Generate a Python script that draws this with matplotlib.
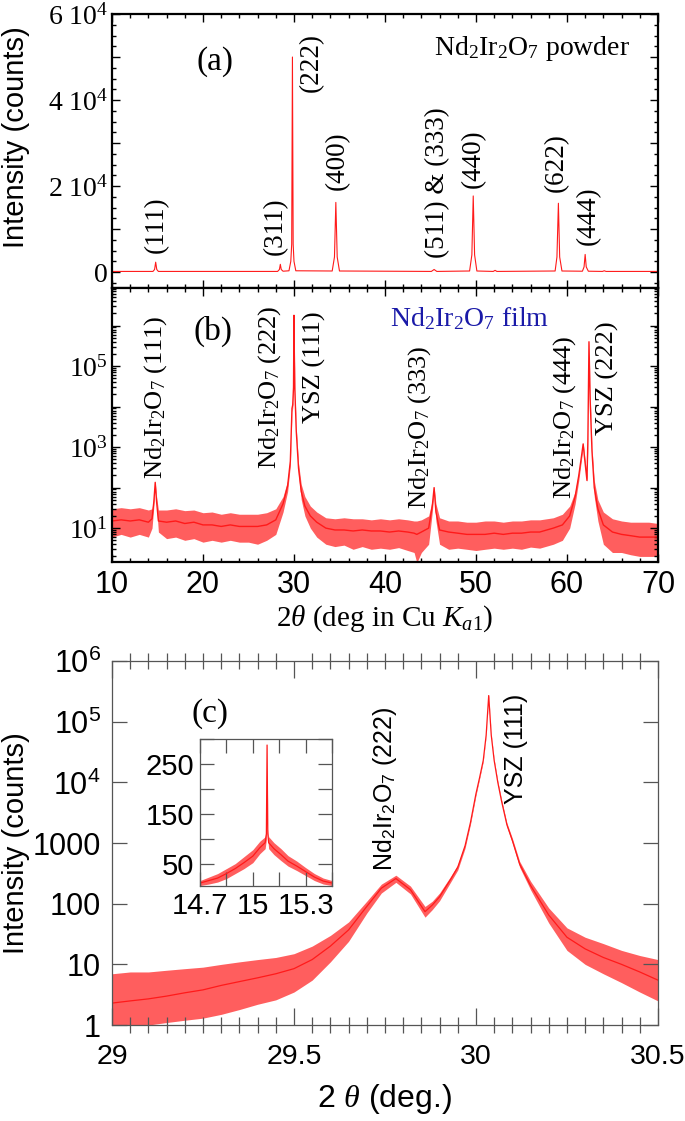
import numpy as np
import matplotlib
matplotlib.use("Agg")
import matplotlib.pyplot as plt
from matplotlib.ticker import MultipleLocator, FixedLocator, FuncFormatter, LogLocator, NullLocator, NullFormatter

plt.rcParams['mathtext.fontset'] = 'custom'
plt.rcParams['mathtext.rm'] = 'Liberation Serif'
plt.rcParams['mathtext.it'] = 'Liberation Serif:italic'
plt.rcParams['mathtext.sf'] = 'Liberation Sans'
plt.rcParams['mathtext.bf'] = 'Liberation Serif:bold'
SERIF = 'Liberation Serif'
SANS = 'Liberation Sans'

# ---------------- data: (a) powder, linear ----------------
a_x = [10.0, 14.5, 14.68, 14.8, 14.92, 15.1, 28.2, 28.4, 28.5, 28.6, 28.8, 29.45, 29.65, 29.75,
       29.83, 29.91, 30.0, 30.2, 34.2, 34.45, 34.6, 34.75, 35.0, 45.1, 45.4, 45.7, 49.3, 49.55,
       49.7, 49.85, 50.1, 51.9, 52.1, 52.3, 58.7, 58.9, 59.06, 59.2, 59.45, 61.7, 61.88, 62.0,
       62.12, 62.35, 63.9, 64.1, 64.3, 70.0]
a_y = [150, 150, 600, 2300, 600, 150, 150, 600, 1800, 600, 200, 300, 2500, 6500,
       50000, 6500, 2500, 300, 250, 3500, 16200, 3500, 250, 150, 600, 150, 250, 4000,
       17700, 4000, 250, 150, 400, 150, 250, 3500, 16000, 3500, 250, 200, 1200, 4100,
       1200, 200, 150, 300, 150, 150]
a_labels = ['(111)', '(311)', '(222)', '(400)', '(511) & (333)', '(440)', '(622)', '(444)']
a_label_x = [14.9, 27.9, 31.9, 34.8, 45.8, 49.7, 58.8, 62.3]
a_label_y = [11000, 10700, 48700, 25800, 20900, 26300, 25500, 13100]

# ---------------- data: (b) film, log ----------------
b_x = [10, 11, 12, 13, 14, 14.4, 14.6, 14.75, 14.9, 15.1, 16, 17, 18, 19, 20, 21, 22, 23, 24, 25,
       26, 27, 28, 28.8, 29.3, 29.6, 29.78, 29.86, 29.95, 29.98, 30.0, 30.02, 30.1, 30.25, 30.5,
       30.8, 31.2, 31.8, 32.5, 33.5, 34.5, 35.5, 36.5, 37.5, 38.5, 39.5, 40.5, 41.5, 42.5, 43.2,
       43.5, 44, 44.8, 45.2, 45.4, 45.6, 46, 47, 48, 49, 50, 51, 52, 53, 54, 55, 56, 57,
       58.5, 59.5, 60.3, 60.9, 61.3, 61.6, 61.78, 61.95, 62.2, 62.3, 62.42, 62.55, 62.75, 63.0,
       63.4, 64, 65, 66, 67, 68, 69, 70]
b_mid = [15, 16, 15, 16, 14, 17, 45, 135, 45, 15, 14, 15, 13, 14, 12, 12, 11, 12, 11, 11,
         11, 12, 16, 40, 110, 450, 9000, 1.1e4, 3e4, 4e5, 1.8e6, 4e5, 2.5e4, 2500, 300,
         80, 35, 20, 14, 10, 9, 9, 8.5, 9, 8.5, 8.5, 8, 8.5, 8, 7.5,
         7, 8, 10, 35, 100, 25, 9, 8, 7.5, 7, 7, 7, 7.5, 7, 7.5, 7.5, 8, 8,
         10, 12, 20, 60, 200, 600, 1200, 500, 150, 1500, 4e5, 1.5e4, 800, 100,
         30, 12, 8, 7, 6.5, 6, 6, 6]
b_lo = [6, 7, 6, 7, 6, 10, 35, 110, 35, 8, 5.5, 6, 5, 5.5, 4.5, 5, 4.5, 5, 4.5, 4.5,
        4, 5, 7, 25, 80, 350, 7500, 9000, 2e4, 3.5e5, 1.6e6, 3.5e5, 2e4, 2000, 200,
        50, 20, 10, 6, 4, 3.5, 3.8, 3, 3.5, 3, 3.2, 3, 3.3, 2.8, 2.5,
        1.4, 2.5, 4, 25, 80, 15, 4, 3, 3.2, 3, 2.8, 3, 3.2, 3, 3.2, 3, 3.4, 3.2,
        4, 5, 10, 40, 150, 500, 1000, 400, 140, 1200, 3.5e5, 1.2e4, 600, 60,
        15, 4, 2.5, 2.5, 2.2, 2, 2, 2]
b_hi = [30, 32, 30, 32, 28, 30, 60, 140, 60, 28, 28, 30, 27, 28, 24, 25, 22, 24, 22, 22,
        22, 24, 30, 60, 150, 600, 1.05e4, 1.3e4, 4e4, 5e5, 1.9e6, 5e5, 3e4, 3000, 400,
        120, 60, 35, 25, 18, 17, 18, 17, 17, 16, 17, 16, 17, 16, 15,
        15, 16, 20, 50, 105, 40, 18, 15, 15, 14, 14, 15, 15, 14, 15, 15, 16, 16,
        18, 22, 35, 80, 250, 700, 1300, 600, 200, 2000, 4.3e5, 2e4, 1000, 150,
        50, 25, 17, 15, 14, 14, 14, 13]
b_labels = [r'Nd$_2$Ir$_2$O$_7$ (111)', r'Nd$_2$Ir$_2$O$_7$ (222)', 'YSZ (111)',
            r'Nd$_2$Ir$_2$O$_7$ (333)', r'Nd$_2$Ir$_2$O$_7$ (444)', 'YSZ (222)']
b_label_x = [14.8, 27.3, 32.3, 43.85, 59.7, 64.5]
b_label_y = [10**4.22, 10**4.47, 10**4.98, 10**3.49, 10**3.73, 10**4.70]

# ---------------- data: (c) zoom, log ----------------
c_x = [29.00, 29.05, 29.10, 29.15, 29.20, 29.25, 29.30, 29.35, 29.40, 29.45, 29.50, 29.55,
       29.60, 29.65, 29.70, 29.74, 29.78, 29.82, 29.86, 29.88, 29.90, 29.93, 29.95, 29.97,
       29.985, 30.00, 30.01, 30.02, 30.028, 30.035, 30.042, 30.05, 30.06, 30.07, 30.085,
       30.10, 30.12, 30.15, 30.20, 30.25, 30.30, 30.35, 30.40, 30.45, 30.50]
c_mid = [2.3, 2.5, 2.7, 3.0, 3.4, 3.8, 4.5, 5.2, 6.0, 7.0, 8.5, 12,
         20, 37, 90, 180, 260, 170, 74, 95, 130, 250, 400, 900,
         2200, 6500, 1.2e4, 2.3e4, 6e4, 2.7e5, 6e4, 2.3e4, 1e4, 5000, 2000,
         1100, 450, 200, 65, 28, 18, 13, 10, 7.5, 5.5]
c_lo = [1, 1, 1, 1.1, 1.2, 1.3, 1.5, 1.8, 2.2, 2.6, 3.5, 5.5,
        11, 24, 70, 150, 225, 145, 60, 80, 112, 225, 360, 820,
        2050, 6100, 1.15e4, 2.2e4, 5.8e4, 2.6e5, 5.8e4, 2.2e4, 9500, 4700, 1850,
        1000, 400, 170, 48, 17, 10, 7, 5, 3.5, 2.5]
c_hi = [7, 7.5, 7.5, 8, 8.5, 9, 10, 11, 12, 13, 15, 20,
        30, 50, 110, 210, 295, 195, 90, 110, 150, 280, 440, 980,
        2350, 6900, 1.25e4, 2.4e4, 6.2e4, 2.8e5, 6.2e4, 2.4e4, 1.05e4, 5300, 2150,
        1200, 500, 235, 85, 40, 28, 22, 17, 14, 12]

# ---------------- data: inset ----------------
i_x = [14.70, 14.75, 14.80, 14.85, 14.90, 14.95, 15.00, 15.04, 15.07, 15.077, 15.081, 15.085,
       15.09, 15.12, 15.16, 15.20, 15.25, 15.30, 15.35, 15.40, 15.45]
i_mid = [11, 16, 21, 30, 40, 52, 65, 82, 92, 110, 288, 110,
         92, 80, 68, 55, 45, 34, 23, 15, 11]
i_lo = [6, 9, 13, 20, 30, 40, 52, 70, 80, 98, 280, 98,
        80, 68, 56, 45, 36, 26, 16, 9, 6]
i_hi = [16, 23, 30, 40, 50, 64, 78, 95, 104, 120, 292, 120,
        104, 92, 80, 66, 55, 42, 30, 21, 16]

RED = '#ff1a1a'

fig = plt.figure(figsize=(6.85, 11.21), dpi=100)
ax_a = fig.add_axes([0.1635, 0.7431, 0.797, 0.2444])
ax_b = fig.add_axes([0.1635, 0.4987, 0.797, 0.2444], sharex=ax_a)
ax_c = fig.add_axes([0.1635, 0.0856, 0.797, 0.3247])
ax_i = fig.add_axes([0.292, 0.2096, 0.1927, 0.1311])

# ---------- panel (a) ----------
ax_a.plot(a_x, a_y, color=RED, lw=0.8)
ax_a.set_xlim(10, 70)
ax_a.set_ylim(-3700, 60000)
ax_a.yaxis.set_major_locator(MultipleLocator(10000))
ax_a.yaxis.set_minor_locator(MultipleLocator(2500))
def fmt_a(v, pos):
    if abs(v) < 1:
        return '0'
    if int(round(v)) % 20000 == 0:
        return r'%d $10^{4}$' % int(round(v / 1e4))
    return ''
ax_a.yaxis.set_major_formatter(FuncFormatter(fmt_a))
for i, t in enumerate(a_labels):
    ax_a.text(a_label_x[i], a_label_y[i], t, rotation=90, ha='center', va='center',
              fontsize=19.5, family=SERIF)
ax_a.text(21.3, 48900, '(a)', fontsize=24, family=SERIF, ha='center', va='center')
ax_a.text(66.9, 52000, r'Nd$_2$Ir$_2$O$_7$ powder', fontsize=20, family=SERIF, ha='right', va='center')
ax_a.set_ylabel('Intensity (counts)', fontsize=21, family=SANS)
ax_a.yaxis.set_label_coords(-0.15, 0.55)

# ---------- panel (b) ----------
ax_b.fill_between(b_x, b_lo, b_hi, color=RED, alpha=0.7, lw=0)
ax_b.plot(b_x, b_mid, color=RED, lw=1.0)
ax_b.set_yscale('log')
ax_b.set_ylim(1.46, 8.5e6)
ax_b.yaxis.set_major_locator(LogLocator(base=10, numticks=20))
ax_b.yaxis.set_minor_locator(LogLocator(base=10, subs=np.arange(2, 10), numticks=20))
ax_b.yaxis.set_minor_formatter(NullFormatter())
def fmt_b(v, pos):
    e = int(round(np.log10(v)))
    return r'$10^{%d}$' % e if e in (1, 3, 5) else ''
ax_b.yaxis.set_major_formatter(FuncFormatter(fmt_b))
for i, t in enumerate(b_labels):
    ax_b.text(b_label_x[i], b_label_y[i], t, rotation=90, ha='center', va='center',
              fontsize=19, family=SERIF)
ax_b.text(21.1, 10**5.86, '(b)', fontsize=24, family=SERIF, ha='center', va='center')
ax_b.text(40.6, 10**6.18, r'Nd$_2$Ir$_2$O$_7$ film', fontsize=20, family=SERIF,
          ha='left', va='center', color='#1a1aa8')
ax_b.set_xlabel(r'2$\theta$ (deg in Cu $K_{a1}$)', fontsize=21, family=SERIF, labelpad=2)

for ax in (ax_a, ax_b):
    ax.xaxis.set_major_locator(MultipleLocator(10))
    ax.xaxis.set_minor_locator(MultipleLocator(2))
    ax.tick_params(which='both', direction='in', top=True, right=True, width=1.0)
    ax.tick_params(which='major', length=6)
    ax.tick_params(which='minor', length=3)
    ax.tick_params(axis='y', labelsize=20, pad=3)
    for s in ax.spines.values():
        s.set_linewidth(1.6)
    for lab in ax.get_yticklabels():
        lab.set_family(SERIF)
ax_a.tick_params(labelbottom=False)
ax_b.tick_params(axis='x', labelsize=22, pad=6)
for lab in ax_b.get_xticklabels():
    lab.set_family(SANS)

# ---------- panel (c) ----------
GRAY = '#555555'
ax_c.fill_between(c_x, c_lo, c_hi, color=RED, alpha=0.7, lw=0)
ax_c.plot(c_x, c_mid, color=RED, lw=0.9)
ax_c.set_yscale('log')
ax_c.set_xlim(29, 30.5)
ax_c.set_ylim(1, 1e6)
ax_c.xaxis.set_major_locator(MultipleLocator(0.5))
ax_c.xaxis.set_minor_locator(MultipleLocator(0.05))
ax_c.xaxis.set_major_formatter(FuncFormatter(lambda v, p: ('%g' % v)))
ax_c.yaxis.set_major_locator(LogLocator(base=10, numticks=20))
ax_c.yaxis.set_minor_locator(NullLocator())
def fmt_c(v, pos):
    e = int(round(np.log10(v)))
    if e <= 3:
        return '%d' % int(round(10 ** e))
    return r'$\mathsf{10^{%d}}$' % e
ax_c.yaxis.set_major_formatter(FuncFormatter(fmt_c))
ax_c.tick_params(which='both', top=True, right=True, color=GRAY, width=0.9)
ax_c.tick_params(axis='y', which='major', direction='in', length=11, labelsize=22, pad=8)
ax_c.tick_params(axis='x', which='major', direction='in', length=12, labelsize=20.5, pad=14)
ax_c.tick_params(axis='x', which='minor', direction='inout', length=11)
for s in ax_c.spines.values():
    s.set_linewidth(0.9)
    s.set_color(GRAY)
for lab in ax_c.get_xticklabels() + ax_c.get_yticklabels():
    lab.set_family(SANS)
ax_c.set_ylabel('Intensity (counts)', fontsize=21, family=SANS)
ax_c.yaxis.set_label_coords(-0.15, 0.5)
ax_c.set_xlabel(r'2 $\theta$ (deg.)', fontsize=23, family=SANS, labelpad=8)
ax_c.text(29.27, 10**5.14, '(c)', fontsize=24, family=SERIF, ha='center', va='center')
ax_c.text(29.75, 10**3.89, r'Nd$_\mathsf{2}$Ir$_\mathsf{2}$O$_\mathsf{7}$ (222)', rotation=90,
          ha='center', va='center', fontsize=18, family=SANS)
ax_c.text(30.11, 10**4.55, 'YSZ (111)', rotation=90, ha='center', va='center',
          fontsize=18, family=SANS)

# ---------- inset ----------
ax_i.fill_between(i_x, i_lo, i_hi, color=RED, alpha=0.7, lw=0)
ax_i.plot(i_x, i_mid, color=RED, lw=0.9)
ax_i.set_xlim(14.7, 15.45)
ax_i.set_ylim(5, 300)
ax_i.xaxis.set_major_locator(FixedLocator([14.7, 14.85, 15.0, 15.15, 15.3, 15.45]))
ax_i.xaxis.set_major_formatter(FuncFormatter(
    lambda v, p: {14.7: '14.7', 15.0: '15', 15.3: '15.3'}.get(round(v, 2), '')))
ax_i.yaxis.set_major_locator(MultipleLocator(50))
ax_i.yaxis.set_major_formatter(FuncFormatter(
    lambda v, p: '%d' % v if int(round(v)) in (50, 150, 250) else ''))
ax_i.tick_params(which='both', direction='in', top=True, right=True, color=GRAY,
                 width=0.9, length=10, labelsize=21, pad=4)
for s in ax_i.spines.values():
    s.set_linewidth(0.9)
    s.set_color(GRAY)
for lab in ax_i.get_xticklabels() + ax_i.get_yticklabels():
    lab.set_family(SANS)

fig.savefig('out.png', dpi=100)
